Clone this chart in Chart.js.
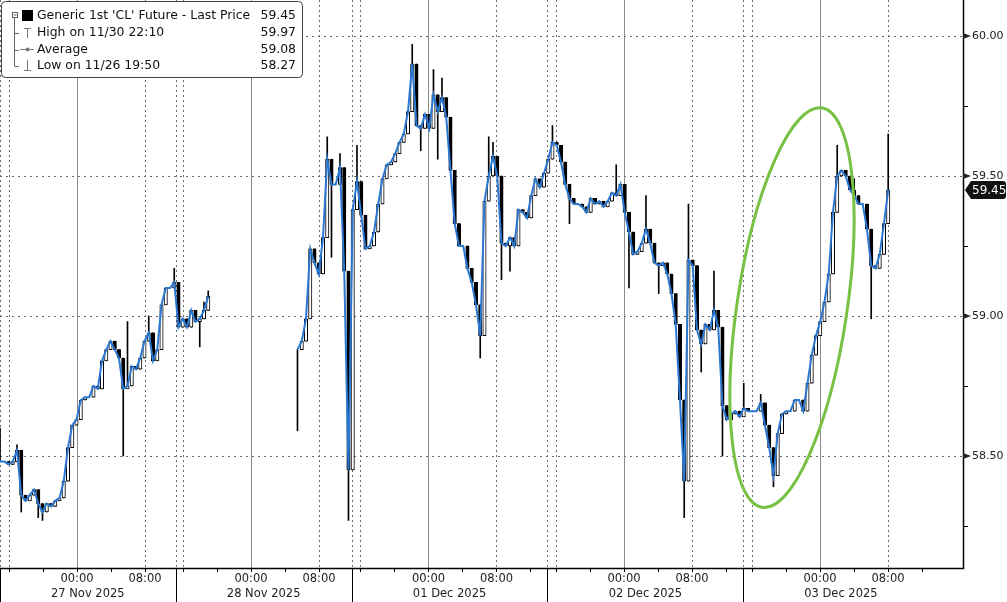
<!DOCTYPE html>
<html>
<head>
<meta charset="utf-8">
<script src="https://cdn.jsdelivr.net/npm/chart.js@4.4.0/dist/chart.umd.min.js"></script>
<style>
  html, body { margin: 0; padding: 0; background: #fff; }
  canvas { display: block; }
</style>
</head>
<body>
<canvas id="c" width="1007" height="602"></canvas>
<script>
// CL1 intraday, half-hour bars. x unit = trading hours from left edge (gaps removed).
const STEP = 0.5;
const X_MAX = 113.3;

// closes, block A = 26-27 Nov session, block B = 28 Nov .. 03 Dec
const blockAStart = 0;
const blockA = [
  58.48, 58.48, 58.47, 58.48, 58.52, 58.36, 58.34, 58.36, 58.38, 58.33,
  58.30, 58.33, 58.32, 58.34, 58.35, 58.41, 58.53, 58.61, 58.63, 58.70,
  58.71, 58.71, 58.75, 58.74, 58.84, 58.88, 58.91, 58.88, 58.85, 58.74,
  58.75, 58.82, 58.81, 58.85, 58.91, 58.94, 58.84, 58.88, 59.04, 59.10,
  59.10, 59.12, 58.96, 58.99, 58.96, 59.02, 58.98, 58.99, 59.02, 59.07
];
const blockBStart = 70;
const blockB = [
  58.88, 58.91, 58.99, 59.24, 59.19, 59.15, 59.28, 59.56, 59.47, 59.47,
  59.53, 59.16, 58.45, 59.38, 59.48, 59.36, 59.24, 59.25, 59.30, 59.40,
  59.49, 59.54, 59.55, 59.58, 59.62, 59.65, 59.73, 59.90, 59.68, 59.67,
  59.72, 59.67, 59.79, 59.73, 59.78, 59.71, 59.52, 59.33, 59.25, 59.25,
  59.17, 59.12, 59.04, 58.93, 59.41, 59.50, 59.57, 59.50, 59.26, 59.25,
  59.28, 59.25, 59.38, 59.37, 59.35, 59.43, 59.49, 59.46, 59.51, 59.56,
  59.62, 59.61, 59.55, 59.47, 59.42, 59.40, 59.40, 59.39, 59.37, 59.42,
  59.40, 59.41, 59.39, 59.41, 59.44, 59.43, 59.47, 59.37, 59.30, 59.22,
  59.23, 59.26, 59.31, 59.26, 59.19, 59.18, 59.19, 59.15, 59.08, 58.97,
  58.70, 58.41, 59.20, 59.18, 58.95, 58.90, 58.97, 58.95, 59.02, 58.96,
  58.68, 58.63, 58.65, 58.66, 58.64, 58.67, 58.66, 58.66, 58.66, 58.69,
  58.61, 58.53, 58.43, 58.58, 58.65, 58.66, 58.66, 58.70, 58.70, 58.66,
  58.76, 58.86, 58.93, 58.98, 59.05, 59.15, 59.37, 59.50, 59.52, 59.50,
  59.45, 59.43, 59.40, 59.40, 59.31, 59.18, 59.17, 59.22, 59.33, 59.45
];

// long wicks [bar index, price]
const spikeHigh = [
  [0, 58.60], [4, 58.54], [30, 58.98], [35, 59.00], [41, 59.17], [48, 59.05], [49, 59.09],
  [77, 59.64], [80, 59.58], [84, 59.61], [97, 59.97], [98, 59.82], [102, 59.88], [104, 59.85],
  [115, 59.64], [116, 59.62], [130, 59.68], [145, 59.54], [152, 59.43], [162, 59.40],
  [168, 59.16], [175, 58.76], [179, 58.72], [197, 59.61], [201, 59.49], [209, 59.65]
];
const spikeLow = [
  [5, 58.30], [9, 58.28], [10, 58.27], [29, 58.50], [47, 58.89],
  [70, 58.59], [78, 59.21], [82, 58.27], [99, 59.59], [103, 59.56], [113, 58.85],
  [118, 59.13], [120, 59.16], [134, 59.33], [148, 59.10], [155, 59.08], [161, 58.28],
  [165, 58.80], [170, 58.50], [182, 58.39], [205, 58.99]
];

// axis
const sectionLabels = ["27 Nov 2025", "28 Nov 2025", "01 Dec 2025", "02 Dec 2025", "03 Dec 2025"];
const sectionStart = [0, 20.66, 41.38, 64.41, 87.47];
const sectionEnd = [20.66, 41.38, 64.41, 87.47, 110.4];
const midnights = [9.06, 29.53, 50.41, 73.41, 96.47];
const yTicks = [58.5, 59.0, 59.5, 60.0];
const yMinor = [58.25, 58.75, 59.25, 59.75];
const Y_MIN = 58.1, Y_MAX = 60.1286;

const lastPrice = 59.45;
const legendRows = [
  ["Generic 1st 'CL' Future - Last Price", "59.45"],
  ["High on 11/30 22:10", "59.97"],
  ["Average", "59.08"],
  ["Low on 11/26 19:50", "58.27"]
];
const circled = { x: 93.18, y: 59.03 }; // centre of the green ellipse

// build bars: open = previous close
function toBars(start, closes) {
  return closes.map((c, i) => ({ k: start + i, open: i ? closes[i - 1] : c, close: c }));
}
const bars = [...toBars(blockAStart, blockA), ...toBars(blockBStart, blockB)];
const hiMap = new Map(spikeHigh), loMap = new Map(spikeLow);

const bodies = bars.map(b => ({ x: b.k * STEP, y: [b.open, b.close] }));
const wicks = bars.map(b => ({
  x: b.k * STEP,
  y: [Math.min(b.open, b.close, loMap.get(b.k) ?? Infinity), Math.max(b.open, b.close, hiMap.get(b.k) ?? -Infinity)]
}));
const linePts = [
  ...blockA.map((c, i) => ({ x: (blockAStart + i) * STEP, y: c })),
  { x: (blockAStart + blockA.length) * STEP, y: null },
  ...blockB.map((c, i) => ({ x: (blockBStart + i) * STEP, y: c }))
];

const FONT = "DejaVu Sans";

function seg(ctx, x1, y1, x2, y2) { ctx.beginPath(); ctx.moveTo(x1, y1); ctx.lineTo(x2, y2); ctx.stroke(); }

const decor = {
  id: "decor",
  beforeDatasetsDraw(chart) {
    const { ctx, chartArea: a, scales: { x, y } } = chart;
    ctx.save();
    ctx.lineWidth = 1;
    ctx.strokeStyle = "#6a6a6a";
    ctx.setLineDash([2, 4]);
    yTicks.forEach(v => { const py = Math.round(y.getPixelForValue(v)) + 0.5; seg(ctx, a.left, py, a.right, py); });
    ctx.setLineDash([2, 3]);
    const dotted = [...sectionStart];
    midnights.forEach(m => dotted.push(m - 8, m + 8));
    dotted.forEach(v => { const px = Math.round(x.getPixelForValue(v)) + 0.5; seg(ctx, px, a.top, px, a.bottom); });
    ctx.setLineDash([]);
    ctx.strokeStyle = "#8c8c8c";
    midnights.forEach(v => { const px = Math.round(x.getPixelForValue(v)) + 0.5; seg(ctx, px, a.top, px, a.bottom); });
    ctx.restore();
  },
  afterDraw(chart) {
    const { ctx, chartArea: a, scales: { x, y } } = chart;
    const W = chart.width, H = chart.height;
    ctx.save();

    // green circle-out
    ctx.strokeStyle = "#78c144";
    ctx.lineWidth = 3;
    ctx.beginPath();
    ctx.ellipse(x.getPixelForValue(circled.x), y.getPixelForValue(circled.y), 55, 202, 0.148, 0, Math.PI * 2);
    ctx.stroke();

    // axes lines
    ctx.strokeStyle = "#000";
    ctx.lineWidth = 1.5;
    seg(ctx, a.right + 0.5, 0, a.right + 0.5, a.bottom + 1);
    seg(ctx, 0, a.bottom + 0.5, a.right + 1, a.bottom + 0.5);

    // right axis ticks + labels
    ctx.lineWidth = 1;
    ctx.fillStyle = "#222";
    ctx.font = `11px "${FONT}"`;
    ctx.textAlign = "left";
    ctx.textBaseline = "middle";
    yMinor.forEach(v => { const py = Math.round(y.getPixelForValue(v)) + 0.5; seg(ctx, a.right, py, a.right + 5, py); });
    yTicks.forEach(v => {
      const py = y.getPixelForValue(v);
      ctx.beginPath();
      ctx.moveTo(a.right, py - 3); ctx.lineTo(a.right + 8, py); ctx.lineTo(a.right, py + 3); ctx.closePath();
      ctx.fill();
      ctx.fillText(v.toFixed(2), a.right + 9, py);
    });

    // last price tag
    const ly = y.getPixelForValue(lastPrice);
    ctx.fillStyle = "#111";
    ctx.beginPath();
    ctx.moveTo(a.right + 2, ly);
    ctx.lineTo(a.right + 8, ly - 9);
    ctx.lineTo(W - 4, ly - 9);
    ctx.quadraticCurveTo(W - 1, ly - 9, W - 1, ly - 6);
    ctx.lineTo(W - 1, ly + 6);
    ctx.quadraticCurveTo(W - 1, ly + 9, W - 4, ly + 9);
    ctx.lineTo(a.right + 8, ly + 9);
    ctx.closePath();
    ctx.fill();
    ctx.fillStyle = "#fff";
    ctx.font = `12px "${FONT}"`;
    ctx.fillText(lastPrice.toFixed(2), a.right + 9, ly + 0.5);

    // bottom axis: ticks, time labels, date labels, separators
    ctx.strokeStyle = "#000";
    ctx.fillStyle = "#222";
    ctx.font = `11.5px "${FONT}"`;
    ctx.textAlign = "center";
    sectionStart.forEach((s, i) => {
      const e = sectionEnd[i];
      const m = midnights[i];
      [-8, -4, 0, 4, 8, 12].forEach(h => {
        const v = m + h;
        if (v < s || v > e) return;
        const px = Math.round(x.getPixelForValue(v)) + 0.5;
        seg(ctx, px, a.bottom, px, a.bottom + 4);
      });
      ctx.fillText("00:00", x.getPixelForValue(m), a.bottom + 11);
      ctx.fillText("08:00", x.getPixelForValue(m + 8), a.bottom + 11);
      const sx = x.getPixelForValue(s), ex = x.getPixelForValue(e);
      ctx.fillText(sectionLabels[i], (sx + ex) / 2, a.bottom + 26);
      const bx = Math.round(sx) + 0.5;
      seg(ctx, bx, a.bottom, bx, H);
    });

    // legend box
    ctx.fillStyle = "#fff";
    ctx.strokeStyle = "#444";
    ctx.lineWidth = 1;
    ctx.beginPath();
    ctx.roundRect(1.5, 1.5, 301, 76, 4);
    ctx.fill();
    ctx.stroke();

    const rowY = [15.5, 33, 49.5, 66];
    // tree
    ctx.strokeStyle = "#666";
    seg(ctx, 14.5, 18, 14.5, rowY[3]);
    [1, 2, 3].forEach(r => seg(ctx, 14.5, Math.round(rowY[r]) + 0.5, 19, Math.round(rowY[r]) + 0.5));
    ctx.strokeRect(12.5, 12.5, 5, 5);
    seg(ctx, 13.5, 15, 16.5, 15);
    ctx.fillStyle = "#000";
    ctx.fillRect(22, 10, 11, 11);
    // high / avg / low icons
    ctx.strokeStyle = "#777";
    seg(ctx, 24, 28.5, 31, 28.5); seg(ctx, 27.5, 28, 27.5, 38);
    seg(ctx, 20, 49.5, 34, 49.5);
    ctx.fillStyle = "#777";
    ctx.beginPath(); ctx.arc(27.5, 49.5, 2, 0, Math.PI * 2); ctx.fill();
    seg(ctx, 27.5, 60, 27.5, 70); seg(ctx, 24, 70.5, 31, 70.5);

    ctx.fillStyle = "#111";
    ctx.font = `12.4px "${FONT}"`;
    ctx.textBaseline = "middle";
    legendRows.forEach(([label, val], r) => {
      ctx.textAlign = "left";
      ctx.fillText(label, 37, rowY[r]);
      ctx.textAlign = "right";
      ctx.fillText(val, 296, rowY[r]);
    });
    ctx.restore();
  }
};

new Chart(document.getElementById("c"), {
  type: "bar",
  data: {
    datasets: [
      {
        type: "line", data: linePts, borderColor: "#2a78d2", borderWidth: 2,
        pointRadius: 0, spanGaps: false, tension: 0, order: 0
      },
      {
        data: bodies, grouped: false, barThickness: 3.4, borderWidth: 1, borderSkipped: false,
        borderColor: "#000",
        backgroundColor: c => (c.raw && c.raw.y[1] < c.raw.y[0]) ? "#000" : "#fff",
        order: 1
      },
      {
        data: wicks, grouped: false, barThickness: 1, borderWidth: 0,
        backgroundColor: "#000", order: 2
      }
    ]
  },
  options: {
    responsive: false,
    animation: false,
    events: [],
    layout: { padding: { left: 0, top: 0, right: 44, bottom: 34 } },
    plugins: { legend: { display: false }, tooltip: { enabled: false } },
    scales: {
      x: { type: "linear", min: 0, max: X_MAX, offset: false, display: false },
      y: { min: Y_MIN, max: Y_MAX, display: false }
    }
  },
  plugins: [decor]
});
</script>
</body>
</html>
